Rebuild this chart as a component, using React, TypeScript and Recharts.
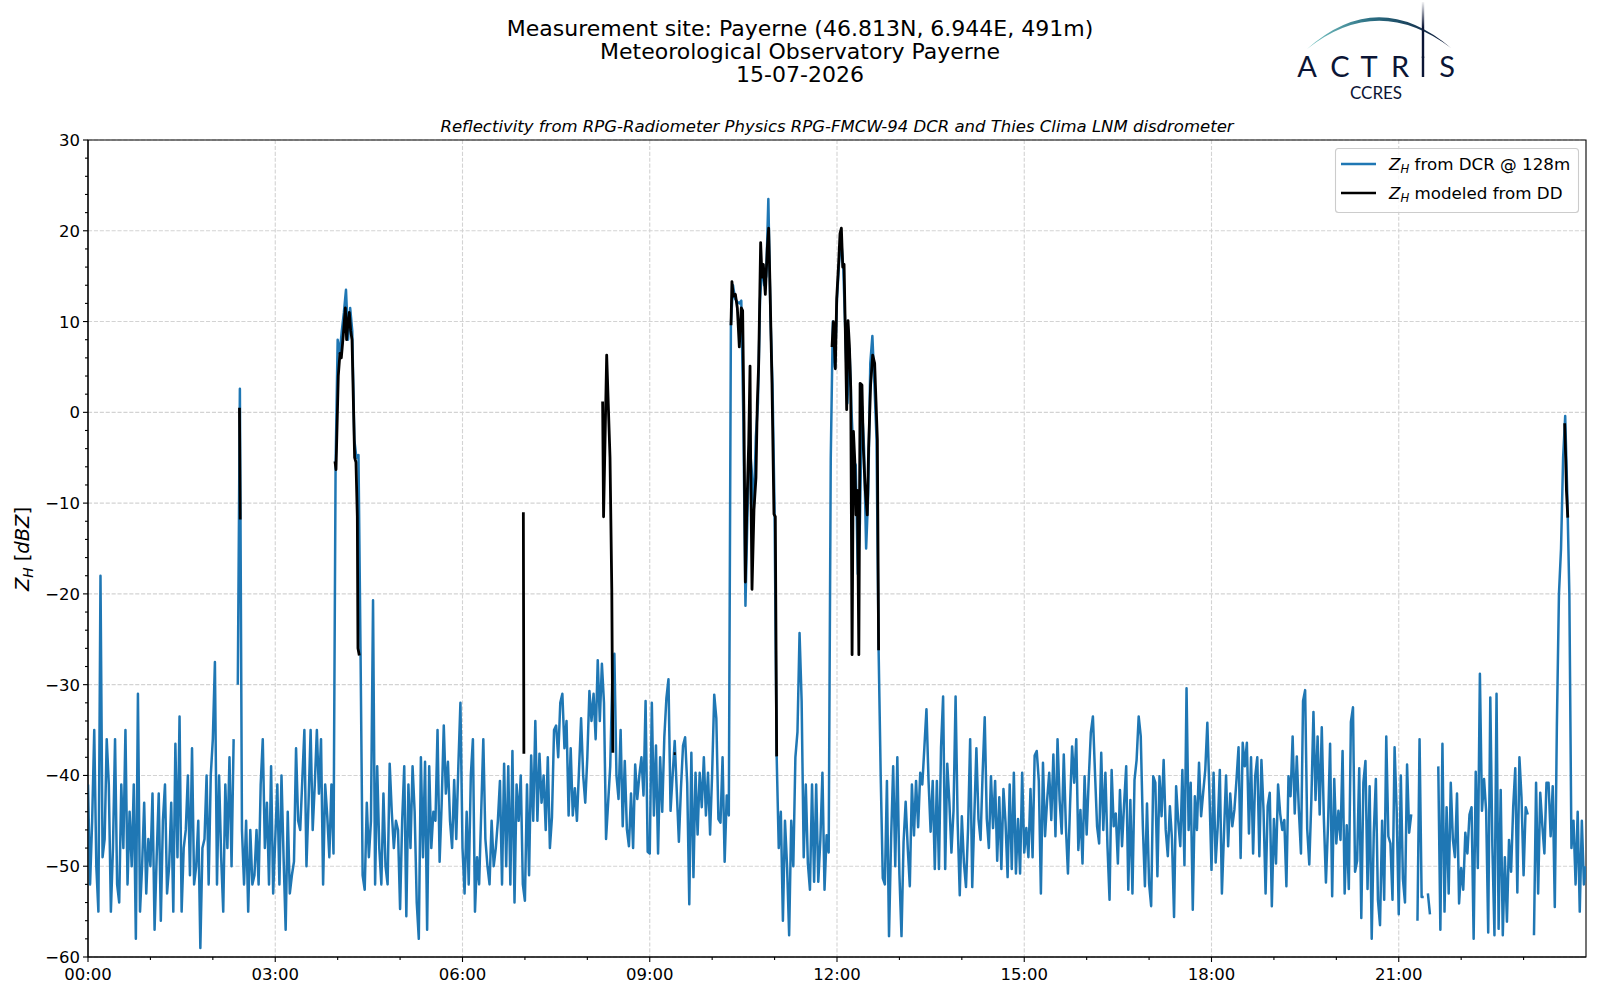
import React from 'react';
import { LineChart, Line, XAxis, YAxis, CartesianGrid, ReferenceArea } from 'recharts';

// DCR reflectivity at 128 m, one value every 2 minutes, one array per hour (dBZ)
const DCR_STEP = 2;
const h00 = [-41, -52, -45, -35, -50, -55, -18, -49, -47, -36, -41, -55, -48, -36, -52, -54, -41, -48, -35, -52, -44, -50, -41, -58, -31, -55, -50, -43, -53, -47];
const h01 = [-50, -42, -57, -49, -42, -56, -45, -41, -53, -50, -43, -55, -36.5, -49, -33.5, -55, -48, -46, -40, -51, -37, -52, -50, -45, -59, -48, -47, -40, -52, -40];
const h02 = [-36, -27.5, -52, -40, -49, -55, -41, -48, -38, -50, -36, null, -30, 2.6, -46, -52, -45, -55, -46, -52, -51, -46, -52, -41, -36, -48, -43, -52, -39, -53];
const h03 = [-47, -41, -52, -40, -49, -57, -44, -53, -51, -49.5, -37, -45, -46, -40.5, -35, -50, -43, -35, -46, -41, -35, -42, -36, -52, -41, -44.5, -49, -41, -48.6, -6];
const h04 = [8, 6.5, 9, 11, 13.5, 8, 11.5, 9, -3, -5, -4.7, -26.5, -51, -52.6, -43, -49, -45, -20.7, -52, -39, -48, -52, -42, -50, -52, -38.7, -44, -48, -45, -46];
const h05 = [-54.7, -45, -39, -55.5, -41, -48, -39, -44, -54, -58, -38, -49, -38.5, -57, -39, -48, -44, -45, -35, -49.5, -43, -34.5, -42, -38.5, -45, -48, -40.5, -47, -39, -32];
const h06 = [-48, -53, -44, -52, -40, -36, -55, -49, -52, -44, -36, -47, -50, -52, -45, -50, -48, -45, -40.6, -52, -38.7, -50, -39, -52, -37.3, -54, -41, -45, -40, -52];
const h07 = [-53.8, -41, -51, -37.8, -45, -34, -45, -37.6, -43, -40, -46, -38, -48, -44.6, -35, -34.5, -38, -32, -31, -37, -34, -44.4, -37, -44.4, -41.4, -45, -39.4, -33.7, -40, -43];
const h08 = [-38, -30.7, -34, -31, -36, -27.3, -34, -27.7, -32, -47, -43, -39, -29.4, -26.6, -40, -42.6, -35, -45.6, -38.4, -45.9, -47.8, -42, -48, -38.8, -42.6, -40, -38, -42.2, -31.8, -48.4];
const h09 = [-48.6, -32, -44.4, -36.7, -48.6, -38, -44, -35.8, -31.5, -29.4, -43.9, -40, -36.2, -41.8, -47.3, -41.4, -36.7, -35.8, -40.9, -54.2, -37.5, -51.2, -39.7, -46.5, -39.7, -43.5, -38, -44.4, -39.7, -46.5];
const h10 = [-39.7, -31.1, -33.7, -44.8, -45.2, -38, -49.5, -42.2, -44.4, 9.6, 14, 12.5, 12.2, 12, 12.3, -1, -21.3, -11, -3.5, -6.4, -10.7, -2.7, 1, 12.3, 16.3, 14, 15, 23.5, 10.7, 3];
const h11 = [-11, -37.9, -48, -44, -56, -45, -50, -57.6, -45, -50, -38, -35.2, -24.3, -31.8, -49, -41, -49.7, -52.6, -41, -51.7, -41, -51.7, -47.1, -39.7, -52.6, -46.6, -48.5, -5, 10, 5];
const h12 = [12.5, 16.5, 19, 16, 9, 1, 7, 0, -5.3, -5.8, -17.8, -12.2, 0.7, -4, -15, -9, 5.4, 8.4, 3, -3, -26.2, -40, -51.3, -52, -40.6, -57.7, -47, -39, -50, -38];
const h13 = [-50.9, -57.7, -47.3, -42.9, -48, -52.2, -41, -46.6, -40.6, -45.7, -39.7, -41, -36.9, -32.7, -40.6, -46.2, -40.6, -50.3, -40.6, -50.3, -36.9, -31.3, -50.3, -38.7, -42.9, -48.5, -43.9, -31.3, -45.2, -53.2];
const h14 = [-44.5, -49.6, -52.3, -45.8, -36, -52.3, -44.5, -37, -44.8, -47.1, -39.7, -33.6, -44.8, -48, -40.1, -45.8, -40.6, -49.4, -42.4, -50.3, -41.5, -45.2, -51.2, -41, -50.3, -39.7, -50.8, -44.8, -50.8, -39.7];
const h15 = [-48.5, -45.8, -49, -41.5, -49, -37.8, -37.3, -40.6, -53, -38.6, -46.7, -42.7, -39.7, -44.9, -37.7, -46.7, -36, -42.7, -46.4, -37.7, -45.6, -50.8, -43.4, -36.8, -40.8, -36, -48.2, -43.8, -49.7, -40.1];
const h16 = [-46.5, -40.4, -35.3, -33.5, -39.7, -45.6, -47.5, -37.5, -46, -39.7, -47.8, -53.7, -39.4, -45.6, -44.2, -49.7, -41.6, -47.8, -43.1, -39, -52.6, -42.7, -53, -40.5, -38.3, -33.5, -35.7, -45.6, -52.2, -43.1];
const h17 = [-51.9, -54.4, -40.1, -40.8, -51.1, -40.1, -44.5, -38.3, -46, -48.9, -43.4, -47, -55.6, -41.2, -45, -47.8, -39.4, -49.9, -30.4, -46, -40.8, -54.8, -42.3, -46, -38.6, -44.5, -41.9, -39.4, -34.2, -41.9];
const h18 = [-50.4, -39.7, -49.6, -45.6, -39.4, -53, -46.4, -40, -47.8, -42, -45.6, -43.8, -40.5, -36.9, -49.1, -36.4, -39, -36.4, -46.4, -38, -48.6, -40.1, -38, -48.9, -38.3, -43.8, -53, -43.4, -41.9, -54.4];
const h19 = [-44.8, -49.7, -41, -44.2, -46, -44.9, -52.2, -40.1, -42.3, -35.7, -44.2, -37.9, -43.9, -48.6, -31.8, -30.6, -45.9, -49.8, -42.7, -33, -42.7, -35.7, -44.3, -34.7, -44.7, -51.8, -45.5, -36.5, -53.3, -40.4];
const h20 = [-47.5, -43.9, -47.1, -37.3, -53, -45.5, -52.5, -34.1, -32.5, -50.6, -49.4, -39.2, -55.7, -40.8, -38.4, -52.5, -41.2, -58, -46.3, -40.4, -53.7, -56.5, -45, -53.7, -35.7, -46.7, -47.5, -53.7, -36.9, -43.9];
const h21 = [-55.3, -40, -51.4, -54, -38.8, -46.3, -44.3, null, null, -56, -36, -53.4, -53.4, null, -53, -55.3, null, null, null, -39, -57, -36.5, -55, -43.5, -53, -40.8, -47, -49, -42, -54.1];
const h22 = [-50.2, -52.6, -46.3, -48.6, -44.3, -43.5, -58, -39.6, -50.2, -28.8, -43.9, -40.4, -43.9, -57.3, -31.4, -47.8, -57.6, -31, -56.9, -41.6, -57.6, -49, -56.1, -47.1, -50.6, -43.5, -39.2, -52.9, -38, -42.4];
const h23 = [-51, -43.5, -44.3, null, null, -57.6, -40.8, -53, -41.9, -45.5, -48.6, -40.8, -40.8, -46.7, -41.2, -54.5, -34.5, -20, -15, -5, -0.4, -9, -20, -48, -45, -52, -44, -55, -45, -52];
const h24 = [-50];

const dcrZh = [
  ...h00, ...h01, ...h02, ...h03, ...h04, ...h05, ...h06, ...h07, ...h08, ...h09, ...h10, ...h11,
  ...h12, ...h13, ...h14, ...h15, ...h16, ...h17, ...h18, ...h19, ...h20, ...h21, ...h22, ...h23, ...h24,
];

// disdrometer-modeled reflectivity: time in minutes, value in dBZ, null breaks the line
const ddTime = [
  145.6, 146.3, 147,
  237.4, 238.4, 240.6, 242.2, 243.5, 245.4, 247.4, 248.6, 250, 251.2, 252.5, 253.8, 256.3, 257.6, 258.9, 259.5, 260.8, 262,
  418.5, 419, 420,
  494.7, 495.6, 498.6, 501.8, 503.5, 504.5, 506,
  563, 565, 566,
  618.1, 619, 620.3, 622.3, 624.2, 626.1, 628, 629.3, 630.6, 631.9, 633.2, 635.1, 636.4, 637, 638.3, 640.2, 642.1, 643.4,
  644.7, 646.6, 647.9, 649.2, 651.1, 653, 654.3, 655.6, 657.5, 659.4, 660.7, 662, 664,
  715.2, 716.5, 718.4, 719.7, 721.6, 722.9, 724.2, 725.5, 726.8, 728, 729.3, 730.6, 731.9, 733.2, 734.5, 735.8, 737.1,
  738.3, 739.6, 741, 742.2, 744, 745.3, 747.2, 749.1, 750.4, 752.3, 754.3, 756.2, 757.5, 758.8, 760, 762,
  1419.5, 1420.5, 1421.2, 1422.5,
];
const ddZh = [
  0.5, -11.8, null,
  -5.4, -6.3, 4, 6.5, 6, 8.5, 11.5, 8, 10, 11, 9, 8, -5, -5.5, -11.5, -26, -26.8, null,
  -11, -37.6, null,
  1.2, -11.5, 6.3, -5, -19.4, -37.5, null,
  -37.6, -37.6, null,
  9.6, 14.4, 12.8, 13, 11.5, 7.2, 11.5, 11.2, -1, -18.7, -11.2, -3.5, 5.1, -5.3, -19.5, -10.7, -7.2, 1,
  5.3, 18.7, 14.9, 16.3, 13, 18.1, 20.3, 13.9, 3.2, -11.2, -11.5, -37.9, null,
  7.2, 10, 4.8, 12.5, 16.5, 19.7, 20.3, 16, 16.3, 9, 0.3, 10.1, 7.4, 2.7, -26.7, -2.1, -5.3,
  -11.3, -8.6, -26.7, 3.2, 3, -3.9, -8.6, -11.3, -3.9, 3, 6.3, 5.4, 1.2, -3, -26.2, null,
  -1.2, -5.1, -8.6, -11.6,
];

const hourTicks = [0, 60, 120, 180, 240, 300, 360, 420, 480, 540, 600, 660, 720, 780, 840, 900, 960, 1020, 1080, 1140, 1200, 1260, 1320, 1380];
const xGridValues = [180, 360, 540, 720, 900, 1080, 1260];
const yMajor = [-60, -50, -40, -30, -20, -10, 0, 10, 20, 30];
const yTicks = [-60, -58, -56, -54, -52, -50, -48, -46, -44, -42, -40, -38, -36, -34, -32, -30, -28, -26, -24, -22, -20,
  -18, -16, -14, -12, -10, -8, -6, -4, -2, 0, 2, 4, 6, 8, 10, 12, 14, 16, 18, 20, 22, 24, 26, 28, 30];

const dcrData = dcrZh.map((zh, i) => ({ t: i * DCR_STEP, zh }));
const ddData = ddTime.map((t, i) => ({ t, zh: ddZh[i] }));

const BLUE = '#1f77b4';
const NAVY = '#0b1535';
const FONT = '"DejaVu Sans", sans-serif';

const fmtTime = (m: number) => {
  const h = Math.floor(m / 60);
  const mm = m % 60;
  return `${String(h).padStart(2, '0')}:${String(mm).padStart(2, '0')}`;
};

function XTick(props: any) {
  const { x, y, payload } = props;
  const major = payload.value % 180 === 0;
  const len = major ? 5 : 3;
  return (
    <g>
      <line x1={x} x2={x} y1={y} y2={y + len} stroke="#000" strokeWidth={1.1} />
      {major && (
        <text x={x} y={y + 23} textAnchor="middle" fontSize={16.5} fontFamily={FONT} fill="#000">
          {fmtTime(payload.value)}
        </text>
      )}
    </g>
  );
}

function YTick(props: any) {
  const { x, y, payload } = props;
  const major = payload.value % 10 === 0;
  const len = major ? 5 : 3;
  const label = payload.value < 0 ? `\u2212${Math.abs(payload.value)}` : `${payload.value}`;
  return (
    <g>
      <line x1={x - len} x2={x} y1={y} y2={y} stroke="#000" strokeWidth={1.1} />
      {major && (
        <text x={x - 8} y={y + 6} textAnchor="end" fontSize={16.5} fontFamily={FONT} fill="#000">
          {label}
        </text>
      )}
    </g>
  );
}

function ZH({ size }: { size: number }) {
  return (
    <>
      <tspan fontStyle="italic">Z</tspan>
      <tspan fontStyle="italic" fontSize={size * 0.7} dy={size * 0.22}>H</tspan>
      <tspan dy={-size * 0.22}> </tspan>
    </>
  );
}

function Overlay() {
  return (
    <svg width={1600} height={1000} style={{ position: 'absolute', left: 0, top: 0, pointerEvents: 'none' }}>
      <defs>
        <linearGradient id="arcGrad" x1="0" y1="0" x2="1" y2="0">
          <stop offset="0%" stopColor="#7cc9c6" />
          <stop offset="45%" stopColor="#2a6d82" />
          <stop offset="100%" stopColor={NAVY} />
        </linearGradient>
        <linearGradient id="mastGrad" x1="0" y1="0" x2="0" y2="1">
          <stop offset="0%" stopColor={NAVY} stopOpacity={0.05} />
          <stop offset="45%" stopColor={NAVY} stopOpacity={1} />
          <stop offset="100%" stopColor={NAVY} stopOpacity={1} />
        </linearGradient>
      </defs>
      <g fontFamily={FONT} fill="#000" textAnchor="middle" fontSize={22}>
        <text x={800} y={36}>Measurement site: Payerne (46.813N, 6.944E, 491m)</text>
        <text x={800} y={59}>Meteorological Observatory Payerne</text>
        <text x={800} y={82}>15-07-2026</text>
      </g>
      <text x={837} y={132} textAnchor="middle" fontSize={16.5} fontStyle="italic" fontFamily={FONT}>
        Reflectivity from RPG-Radiometer Physics RPG-FMCW-94 DCR and Thies Clima LNM disdrometer
      </text>
      {/* ACTRIS logo */}
      <path d="M1307,49 Q1378,-14 1451,48 Q1378,-7 1307,49 Z" fill="url(#arcGrad)" />
      <rect x={1421.8} y={2} width={2.4} height={56} fill="url(#mastGrad)" />
      <g fontFamily="Lato, 'Open Sans', sans-serif" fontSize={29} fill={NAVY} textAnchor="middle">
        <text x={1307} y={77}>A</text>
        <text x={1340} y={77}>C</text>
        <text x={1369} y={77}>T</text>
        <text x={1400} y={77}>R</text>
        <text x={1447} y={77}>S</text>
      </g>
      <rect x={1421.8} y={56.5} width={2.4} height={20.5} fill={NAVY} />
      <text x={1376} y={99} textAnchor="middle" fontFamily="Lato, 'Open Sans', sans-serif" fontSize={17} fill={NAVY}>
        CCRES
      </text>
      {/* y label */}
      <text transform="translate(29,549) rotate(-90)" textAnchor="middle" fontSize={19.5} fontFamily={FONT}>
        <ZH size={19.5} />
        <tspan>[</tspan>
        <tspan fontStyle="italic">dBZ</tspan>
        <tspan>]</tspan>
      </text>
      {/* legend */}
      <rect x={1335.5} y={148.5} width={243} height={64} rx={3} fill="#fff" fillOpacity={0.8} stroke="#cccccc" strokeWidth={1.1} />
      <line x1={1341} x2={1376} y1={164} y2={164} stroke={BLUE} strokeWidth={2.5} />
      <line x1={1341} x2={1376} y1={193} y2={193} stroke="#000" strokeWidth={2.5} />
      <g fontFamily={FONT} fontSize={16.7} fill="#000">
        <text x={1389} y={169.5}>
          <ZH size={16.7} />
          <tspan>from DCR @ 128m</tspan>
        </text>
        <text x={1389} y={198.5}>
          <ZH size={16.7} />
          <tspan>modeled from DD</tspan>
        </text>
      </g>
    </svg>
  );
}

export default function App() {
  return (
    <div style={{ position: 'absolute', left: 0, top: 0, width: 1600, height: 1000, background: '#fff', fontFamily: FONT }}>
      <LineChart width={1600} height={1000} margin={{ top: 140, right: 14, bottom: 13, left: 28 }}>
        <CartesianGrid
          horizontalValues={yMajor}
          verticalValues={xGridValues}
          stroke="#d3d3d3"
          strokeWidth={1.1}
          strokeDasharray="4.1 1.8"
        />
        <XAxis
          dataKey="t"
          type="number"
          domain={[0, 1440]}
          ticks={hourTicks}
          interval={0}
          tick={<XTick />}
          tickLine={false}
          tickSize={0}
          tickMargin={0}
          height={30}
          axisLine={{ stroke: '#000', strokeWidth: 1.1 }}
          allowDataOverflow
        />
        <YAxis
          type="number"
          domain={[-60, 30]}
          ticks={yTicks}
          interval={0}
          tick={<YTick />}
          tickLine={false}
          tickSize={0}
          tickMargin={0}
          width={60}
          axisLine={{ stroke: '#000', strokeWidth: 1.1 }}
          allowDataOverflow
        />
        <Line
          data={dcrData}
          dataKey="zh"
          type="linear"
          stroke={BLUE}
          strokeWidth={2.5}
          strokeLinejoin="round"
          dot={false}
          activeDot={false}
          connectNulls={false}
          isAnimationActive={false}
        />
        <Line
          data={ddData}
          dataKey="zh"
          type="linear"
          stroke="#000"
          strokeWidth={2.8}
          strokeLinejoin="round"
          dot={false}
          activeDot={false}
          connectNulls={false}
          isAnimationActive={false}
        />
        <ReferenceArea x1={0} x2={1440} y1={-60} y2={30} fill="none" stroke="#000" strokeWidth={1.1} />
      </LineChart>
      <Overlay />
    </div>
  );
}
